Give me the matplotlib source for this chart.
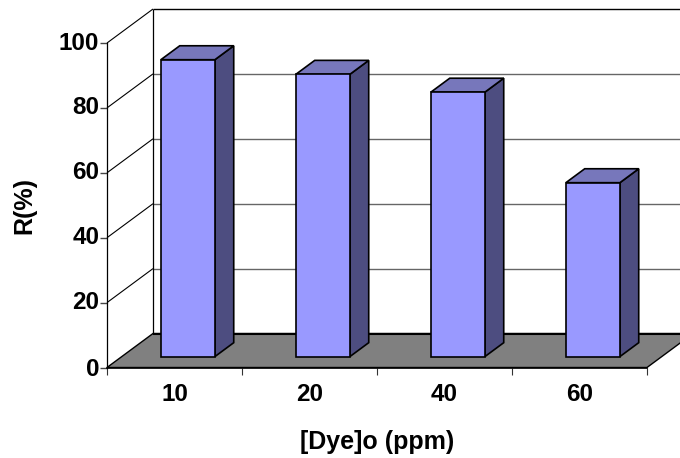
import matplotlib
matplotlib.use('Agg')
import matplotlib.pyplot as plt
from matplotlib.transforms import ScaledTranslation

plt.rcParams['font.family'] = ['Liberation Sans', 'DejaVu Sans']

categories = ['10', '20', '40', '60']
values = [91.5, 87.0, 81.5, 53.6]
yticks = [0, 20, 40, 60, 80, 100]

# depth of the 3d box, in data units
DX = 46 / 135.0
DY = 34 / 3.245
bar_w = 0.4
bar_d0 = 0.32
bar_d1 = 0.73
bar_shift = -0.01

face_c = '#9999FF'
top_c = '#7777BB'
side_c = '#4D4D80'
floor_c = '#808080'


def pr(x, y, d):
  return x + d * DX, y + d * DY


def poly(ax, pts, color, z, lw=1.2):
  xs = [p[0] for p in pts]
  ys = [p[1] for p in pts]
  ax.fill(xs, ys, facecolor=color, edgecolor='black', lw=lw, zorder=z, clip_on=False)


def line(ax, a, b, color='black', lw=1.0, z=2):
  ax.plot([a[0], b[0]], [a[1], b[1]], color=color, lw=lw, zorder=z, clip_on=False,
          solid_capstyle='butt')


fig = plt.figure(figsize=(6.8, 4.58), dpi=100)
ax = fig.add_axes([107 / 680.0, 1 - 367.5 / 458.0, 540 / 680.0, 324.5 / 458.0])
n = len(categories)
ax.set_xlim(0, n)
ax.set_ylim(0, 100)
ax.patch.set_visible(False)
for s in ['top', 'right']:
  ax.spines[s].set_visible(False)
ax.spines['left'].set_linewidth(0.9)
ax.spines['bottom'].set_linewidth(1.2)
ax.spines['left'].set_zorder(6)
ax.spines['bottom'].set_zorder(6)

# floor
poly(ax, [pr(0, 0, 0), pr(n, 0, 0), pr(n, 0, 1), pr(0, 0, 1)], floor_c, 1, lw=1.0)

# walls + grid
for v in yticks[1:]:
  c = 'black' if v == 100 else '#666666'
  line(ax, pr(0, v, 0), pr(0, v, 1), 'black', 0.8)
  line(ax, pr(0, v, 1), pr(n, v, 1), c, 1.0)
line(ax, pr(0, 0, 1), pr(0, 100, 1), 'black', 0.9)
line(ax, pr(0, 0, 1), pr(n, 0, 1), 'black', 1.5, 3)

# bars
for i, v in enumerate(values):
  x0 = i + 0.5 - bar_w / 2 + bar_shift
  x1 = x0 + bar_w
  poly(ax, [pr(x1, 0, bar_d0), pr(x1, 0, bar_d1), pr(x1, v, bar_d1), pr(x1, v, bar_d0)], side_c, 4)
  poly(ax, [pr(x0, v, bar_d0), pr(x1, v, bar_d0), pr(x1, v, bar_d1), pr(x0, v, bar_d1)], top_c, 4)
  poly(ax, [pr(x0, 0, bar_d0), pr(x1, 0, bar_d0), pr(x1, v, bar_d0), pr(x0, v, bar_d0)], face_c, 5)

ax.set_yticks(yticks)
ax.set_yticklabels([str(v) for v in yticks], fontsize=17.5, fontweight='bold')
ax.set_xticks(range(n + 1))
ax.set_xticklabels([''] * (n + 1))
ax.set_xticks([i + 0.5 for i in range(n)], minor=True)
ax.set_xticklabels(categories, minor=True, fontsize=17.5, fontweight='bold')
ax.tick_params(axis='x', which='minor', length=0, pad=11)
ax.tick_params(axis='x', which='major', length=5, width=0.8, color='#333333')
ax.tick_params(axis='y', length=5, width=1.0, color='#444444', pad=0.5)

# upper y labels sit a bit above their ticks
for lab, v in zip(ax.get_yticklabels(), yticks):
  if v > 0:
    lab.set_transform(lab.get_transform() + ScaledTranslation(0, 2.5 / 100.0, fig.dpi_scale_trans))

ax.set_xlabel('[Dye]o (ppm)', fontsize=18, fontweight='bold')
ax.xaxis.set_label_coords((377 - 107) / 540.0, -(442 - 367.5) / 324.5)
ax.set_ylabel('R(%)', fontsize=18, fontweight='bold')
ax.yaxis.set_label_coords(-(107 - 24) / 540.0, (367.5 - 205) / 324.5)
ax.xaxis.label.set_va('center')
ax.yaxis.label.set_va('center')

fig.savefig('out.png', dpi=100)
